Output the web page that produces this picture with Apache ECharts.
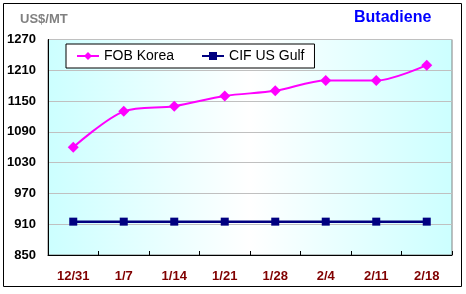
<!DOCTYPE html>
<html><head><meta charset="utf-8">
<script src="https://cdn.jsdelivr.net/npm/echarts@6/dist/echarts.min.js"></script>
<style>html,body{margin:0;padding:0;background:#fff}#c{width:466px;height:294px}</style>
</head><body><div id="c"></div>
<script>
const categories = ['12/31','1/7','1/14','1/21','1/28','2/4','2/11','2/18'];
const fobKorea = [1060,1130,1140,1160,1170,1190,1190,1220];
const cifUSGulf = [915,915,915,915,915,915,915,915];
const yTicks = {min:850, max:1270, interval:60};

const chart = echarts.init(document.getElementById('c'), null, {renderer:'canvas'});
const font = 'Liberation Sans, Arial, sans-serif';
chart.setOption({
  animation:false,
  graphic:[
    {type:'rect', shape:{x:3.5,y:3.5,width:458,height:283}, style:{fill:null, stroke:'#000', lineWidth:1}, z:-10},
    {type:'text', left:20, top:13, style:{text:'US$/MT', fill:'#808080', font:'bold 13px '+font}},
    {type:'text', left:354, top:10, style:{text:'Butadiene', fill:'#0000FF', font:'bold 16px '+font}}
  ],
  grid:{left:48, right:14, top:39.5, bottom:39, show:true,
    backgroundColor:{type:'linear',x:0,y:0,x2:1,y2:0,colorStops:[{offset:0,color:'#CCFFFF'},{offset:0.5,color:'#FFFFFF'},{offset:1,color:'#CCFFFF'}]},
    borderColor:'#808080', borderWidth:1},
  legend:{left:66, top:44, padding:[5,10,5,10], itemGap:27,
    backgroundColor:'#fff', borderColor:'#000', borderWidth:1,
    itemWidth:22, itemHeight:10,
    textStyle:{fontFamily:font, fontSize:14, color:'#000'},
    data:['FOB Korea','CIF US Gulf']},
  xAxis:{type:'category', data:categories, boundaryGap:true,
    axisLine:{lineStyle:{color:'#000', width:1}},
    axisTick:{show:true, inside:true, length:4, lineStyle:{color:'#000'}},
    axisLabel:{color:'#800000', fontWeight:'bold', fontFamily:font, fontSize:13, margin:15},
    splitLine:{show:false}},
  yAxis:{type:'value', min:yTicks.min, max:yTicks.max, interval:yTicks.interval,
    axisLine:{show:true, lineStyle:{color:'#000', width:1}},
    axisTick:{show:false},
    axisLabel:{color:'#000', fontWeight:'bold', fontFamily:font, fontSize:13, margin:12, formatter:v=>String(v)},
    splitLine:{lineStyle:{color:'#C0C0C0', width:1}}},
  series:[
    {name:'FOB Korea', type:'line', data:fobKorea, smooth:0.3,
      symbol:'diamond', symbolSize:11, itemStyle:{color:'#FF00FF'},
      lineStyle:{color:'#FF00FF', width:2}},
    {name:'CIF US Gulf', type:'line', data:cifUSGulf,
      symbol:'rect', symbolSize:8, itemStyle:{color:'#000080'},
      lineStyle:{color:'#000080', width:2.5}}
  ]
});
</script></body></html>
